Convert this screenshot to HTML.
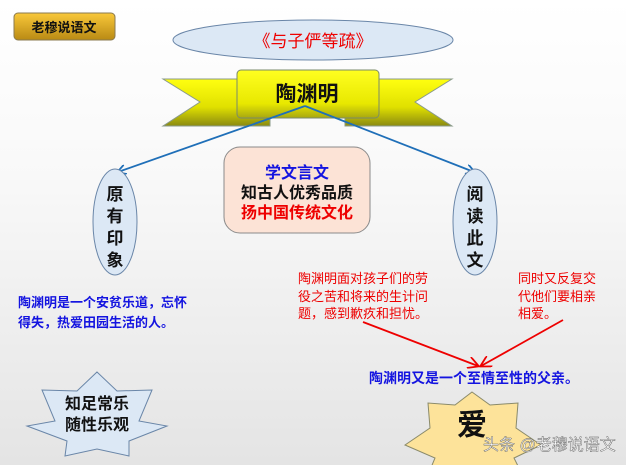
<!DOCTYPE html>
<html><head><meta charset="utf-8"><style>
html,body{margin:0;padding:0;width:626px;height:465px;overflow:hidden}
body{background:linear-gradient(#fff 0%,#f8f8f8 40%,#e4e4e4 100%)}
text{font-family:"Liberation Sans","Noto Sans CJK SC",sans-serif}
</style></head><body>
<svg width="626" height="465" viewBox="0 0 626 465" xmlns="http://www.w3.org/2000/svg">
<defs>
<linearGradient id="gold" x1="0" y1="0" x2="0" y2="1"><stop offset="0" stop-color="#f9c83a"/><stop offset="1" stop-color="#b98a14"/></linearGradient>
<linearGradient id="yel" x1="0" y1="0" x2="0" y2="1"><stop offset="0" stop-color="#ffff10"/><stop offset="0.6" stop-color="#e0e000"/><stop offset="1" stop-color="#8a8a10"/></linearGradient>
<linearGradient id="yel2" x1="0" y1="0" x2="0" y2="1"><stop offset="0" stop-color="#ffff20"/><stop offset="0.7" stop-color="#e8e800"/><stop offset="1" stop-color="#a8a810"/></linearGradient>
<marker id="ab" markerWidth="10" markerHeight="10" refX="8" refY="5" orient="auto" markerUnits="userSpaceOnUse"><path d="M0,0 L9,5 L0,10" fill="none" stroke="#1f6fb8" stroke-width="1.8"/></marker>
<marker id="ar" markerWidth="12" markerHeight="12" refX="10" refY="6" orient="auto" markerUnits="userSpaceOnUse"><path d="M0,0 L11,6 L0,12" fill="none" stroke="#e00" stroke-width="1.8"/></marker>
</defs>
<rect x="14" y="13" width="101" height="27" rx="4" fill="url(#gold)" stroke="#8a7a50"/>
<text x="64" y="32" font-size="13" font-weight="bold" text-anchor="middle" fill="#111">老穆说语文</text>
<ellipse cx="313" cy="40" rx="140" ry="20" fill="#dce8f5" stroke="#6a86a8"/>
<text x="313" y="47" font-size="17" text-anchor="middle" fill="#e00">《与子俨等疏》</text>
<path d="M163,79 L270,79 L270,126 L163,126 L200,102 Z" fill="url(#yel)" stroke="#8a9a8a"/>
<path d="M345,79 L452,79 L415,102 L452,126 L345,126 Z" fill="url(#yel)" stroke="#8a9a8a"/>
<rect x="237" y="70" width="142" height="48" rx="4" fill="url(#yel2)" stroke="#7a8a6a"/>
<text x="307" y="101" font-size="21" font-weight="bold" text-anchor="middle" fill="#111">陶渊明</text>
<line x1="305" y1="106" x2="118" y2="172" stroke="#1f6fb8" stroke-width="1.8" marker-end="url(#ab)"/>
<line x1="305" y1="106" x2="474" y2="172" stroke="#1f6fb8" stroke-width="1.8" marker-end="url(#ab)"/>
<rect x="224" y="147" width="146" height="86" rx="16" fill="#fce3d6" stroke="#8a8a8a"/>
<text x="297" y="178" font-size="16" font-weight="bold" text-anchor="middle" fill="#1414e0">学文言文</text>
<text x="297" y="198" font-size="16" font-weight="bold" text-anchor="middle" fill="#111">知古人优秀品质</text>
<text x="297" y="218" font-size="16" font-weight="bold" text-anchor="middle" fill="#e00">扬中国传统文化</text>
<ellipse cx="115" cy="222" rx="22" ry="53" fill="#dce8f5" stroke="#6a86a8"/>
<ellipse cx="475" cy="222" rx="22" ry="53" fill="#dce8f5" stroke="#6a86a8"/>
<g font-size="17" font-weight="bold" text-anchor="middle" fill="#111">
<text x="115" y="200">原</text><text x="115" y="222">有</text><text x="115" y="244">印</text><text x="115" y="266">象</text>
<text x="475" y="200">阅</text><text x="475" y="222">读</text><text x="475" y="244">此</text><text x="475" y="266">文</text>
</g>
<g font-size="13" font-weight="bold" fill="#1414e0">
<text x="18" y="307">陶渊明是一个安贫乐道，忘怀</text>
<text x="18" y="327">得失，热爱田园生活的人。</text>
</g>
<g font-size="13" fill="#e00">
<text x="298" y="283">陶渊明面对孩子们的劳</text>
<text x="298" y="301">役之苦和将来的生计问</text>
<text x="298" y="318">题，感到歉疚和担忧。</text>
<text x="518" y="283">同时又反复交</text>
<text x="518" y="301">代他们要相亲</text>
<text x="518" y="318">相爱。</text>
</g>
<line x1="363" y1="322" x2="478" y2="366" stroke="#e00" stroke-width="1.8" marker-end="url(#ar)"/>
<line x1="563" y1="320" x2="481" y2="366" stroke="#e00" stroke-width="1.8" marker-end="url(#ar)"/>
<text x="369" y="383" font-size="14" font-weight="bold" fill="#1414e0">陶渊明又是一个至情至性的父亲。</text>
<path d="M97,372 L117,391 L152,390 L139,421 L167,426 L129,441 L129,456 L97,449 L65,456 L67,441 L27,426 L55,421 L42,390 L77,391 Z" fill="#dce8f5" stroke="#6a86a8"/>
<text x="97" y="409" font-size="16" font-weight="bold" text-anchor="middle" fill="#111">知足常乐</text>
<text x="97" y="430" font-size="16" font-weight="bold" text-anchor="middle" fill="#111">随性乐观</text>
<path d="M472,392 L490,405 L518,403 L516,428 L541,445 L514,458 L520,470 L472,468 L430,470 L435,458 L405,445 L430,428 L428,403 L455,405 Z" fill="#fde39a" stroke="#8a8a6a"/>
<text x="472" y="435" font-size="30" font-weight="bold" text-anchor="middle" fill="#111">爱</text>
<text x="483" y="450" font-size="16" fill="#fff" stroke="#555" stroke-width="0.4">头条 @老穆说语文</text>
</svg>
</body></html>
